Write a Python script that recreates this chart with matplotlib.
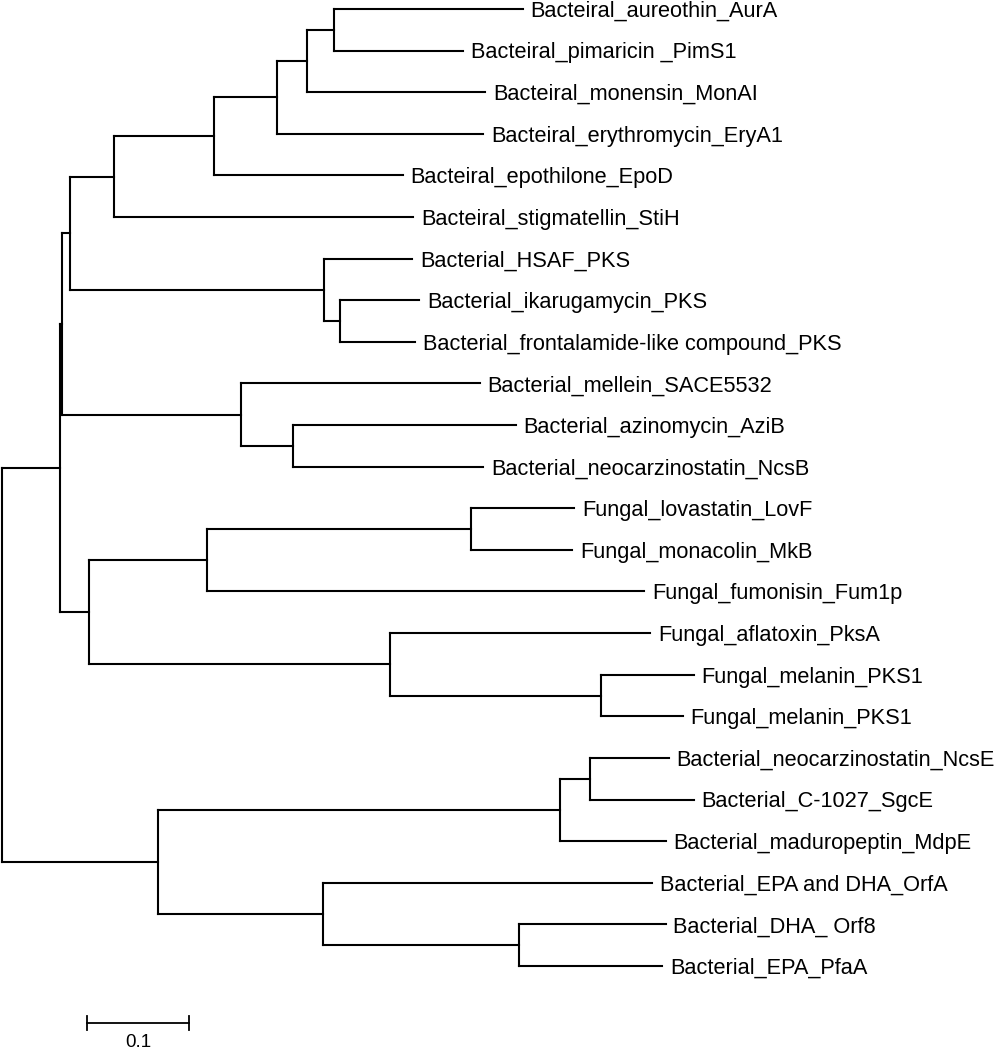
"""
Arbol filogenetico de dominios KS/PKS (bacterianos y fungicos), con barra de escala 0.1.
Salida: out.png
"""

import matplotlib
matplotlib.use("Agg")
import matplotlib.pyplot as plt

plt.rcParams["font.family"] = ["Liberation Sans", "DejaVu Sans"]

# hojas, de arriba a abajo, y su distancia a la raiz
LEAF_NAMES = [
    "Bacteiral_aureothin_AurA",
    "Bacteiral_pimaricin _PimS1",
    "Bacteiral_monensin_MonAI",
    "Bacteiral_erythromycin_EryA1",
    "Bacteiral_epothilone_EpoD",
    "Bacteiral_stigmatellin_StiH",
    "Bacterial_HSAF_PKS",
    "Bacterial_ikarugamycin_PKS",
    "Bacterial_frontalamide-like compound_PKS",
    "Bacterial_mellein_SACE5532",
    "Bacterial_azinomycin_AziB",
    "Bacterial_neocarzinostatin_NcsB",
    "Fungal_lovastatin_LovF",
    "Fungal_monacolin_MkB",
    "Fungal_fumonisin_Fum1p",
    "Fungal_aflatoxin_PksA",
    "Fungal_melanin_PKS1",
    "Fungal_melanin_PKS1",
    "Bacterial_neocarzinostatin_NcsE",
    "Bacterial_C-1027_SgcE",
    "Bacterial_maduropeptin_MdpE",
    "Bacterial_EPA and DHA_OrfA",
    "Bacterial_DHA_ Orf8",
    "Bacterial_EPA_PfaA",
]
LEAF_DEPTH = [
    0.514, 0.455, 0.477, 0.475, 0.396, 0.406, 0.405, 0.412,
    0.408, 0.472, 0.507, 0.475, 0.565, 0.563, 0.634, 0.640,
    0.683, 0.672, 0.658, 0.683, 0.655, 0.642, 0.655, 0.652,
]

# nodos internos: nombre, hijos (int = hoja, str = nodo), distancia a la raiz
CLADE_NAMES = [
    "aur_pim", "mon", "ery", "epo", "stig",
    "ika_fro", "hsaf", "bact1", "azi_ncs", "mell", "bact2",
    "lov_mkb", "lov_grp", "mel_mel", "afla", "fungal", "top",
    "ncse_sgce", "ncse_grp", "orf8_pfa", "orfa_grp", "bottom", "root",
]
CLADE_CHILDREN = [
    [0, 1], ["aur_pim", 2], ["mon", 3], ["ery", 4], ["epo", 5],
    [7, 8], [6, "ika_fro"], ["stig", "hsaf"], [10, 11], [9, "azi_ncs"], ["bact1", "mell"],
    [12, 13], ["lov_mkb", 14], [16, 17], [15, "mel_mel"], ["lov_grp", "afla"], ["bact2", "fungal"],
    [18, 19], ["ncse_sgce", 20], [22, 23], [21, "orf8_pfa"], ["ncse_grp", "orfa_grp"], ["top", "bottom"],
]
CLADE_DEPTH = [
    0.328, 0.301, 0.271, 0.209, 0.111,
    0.334, 0.318, 0.067, 0.287, 0.236, 0.059,
    0.463, 0.202, 0.591, 0.383, 0.086, 0.057,
    0.580, 0.551, 0.510, 0.317, 0.154, 0.0,
]

SCALE_LEN = 0.1

# --- geometria ---
depth = {i: d for i, d in enumerate(LEAF_DEPTH)}
ypos = {i: float(i) for i in range(len(LEAF_NAMES))}
for name, kids, d in zip(CLADE_NAMES, CLADE_CHILDREN, CLADE_DEPTH):
    depth[name] = d
    ypos[name] = (ypos[kids[0]] + ypos[kids[-1]]) / 2

fig = plt.figure(figsize=(10.06, 10.5), dpi=100)
ax = fig.add_axes([0, 0, 1, 1])

LW = 1.5
for name, kids in zip(CLADE_NAMES, CLADE_CHILDREN):
    x0 = depth[name]
    ys = [ypos[k] for k in kids]
    ax.plot([x0, x0], [min(ys), max(ys)], color="black", lw=LW, solid_capstyle="projecting")
    for k in kids:
        ax.plot([x0, depth[k]], [ypos[k], ypos[k]], color="black", lw=LW,
                solid_capstyle="projecting")

for i, label in enumerate(LEAF_NAMES):
    ax.text(LEAF_DEPTH[i] + 0.0075, ypos[i] + 0.19, label, fontsize=15.7,
            ha="left", va="baseline")

# barra de escala
sb_x, sb_y = 0.0842, 24.38
ax.plot([sb_x, sb_x + SCALE_LEN], [sb_y, sb_y], color="black", lw=1.3)
for xx in (sb_x, sb_x + SCALE_LEN):
    ax.plot([xx, xx], [sb_y - 0.17, sb_y + 0.17], color="black", lw=1.3)
ax.text(sb_x + SCALE_LEN / 2, sb_y + 0.57, f"{SCALE_LEN:g}", fontsize=13.5,
        ha="center", va="baseline")

ax.set_xlim(-0.00197, 0.9911)
ax.set_ylim(25.02, -0.216)
ax.axis("off")

fig.savefig("out.png", dpi=100, facecolor="white")
plt.close(fig)
